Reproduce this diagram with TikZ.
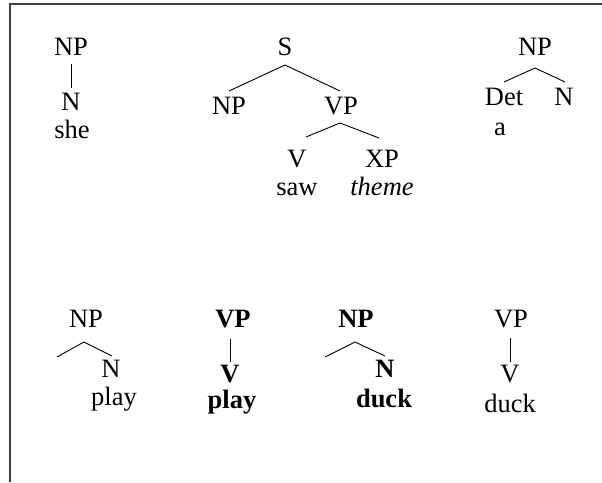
\documentclass[tikz,border=0pt]{standalone}
\usepackage{fontspec}
\setmainfont{Liberation Serif}
\begin{document}
\begin{tikzpicture}[x=1pt,y=-1pt,
  lbl/.style={anchor=base,inner sep=0pt,font=\fontsize{26.5}{31}\selectfont},
  br/.style={line width=0.9pt},
  frame/.style={draw=black!75,line width=1.6pt}]
\useasboundingbox (0,0) rectangle (602,482);
\coordinate (fb) at (10,482);
\coordinate (ftl) at (10,4);
\coordinate (ftr) at (602,4);
\draw[frame] (fb) -- (ftl) -- (ftr);

% tree 1
\node[lbl] (np1) at (71,55) {NP};
\node[lbl] (n1) at (71,110) {N};
\node[lbl] (she) at (72,138) {she};
\coordinate (np1b) at (71,64);
\coordinate (n1t) at (71,88);
\draw[br] (np1b) -- (n1t);

% tree 2
\node[lbl] (s) at (285,55) {S};
\node[lbl] (np2) at (229,114) {NP};
\node[lbl] (vp2) at (341,114) {VP};
\node[lbl] (v2) at (297,167) {V};
\node[lbl] (xp2) at (382,167) {XP};
\node[lbl] (saw) at (297,195) {saw};
\node[lbl] (theme) at (382,195) {\itshape theme};
\coordinate (sb) at (285,65);
\coordinate (np2t) at (229,91);
\coordinate (vp2t) at (340,91);
\coordinate (vp2b) at (340,123);
\coordinate (v2t) at (306,137);
\coordinate (xp2t) at (379,138);
\draw[br] (np2t) -- (sb) -- (vp2t);
\draw[br] (v2t) -- (vp2b) -- (xp2t);

% tree 3
\node[lbl] (np3) at (535,55) {NP};
\node[lbl] (det3) at (504,105) {Det};
\node[lbl] (n3) at (564,105) {N};
\node[lbl] (a3) at (500,135) {a};
\coordinate (np3b) at (535,68);
\coordinate (det3t) at (504,82);
\coordinate (n3t) at (565,82);
\draw[br] (det3t) -- (np3b) -- (n3t);

% tree 4
\node[lbl] (np4) at (86,327) {NP};
\node[lbl] (n4) at (111,377) {N};
\node[lbl] (play4) at (114,405) {play};
\coordinate (l4) at (57,357);
\coordinate (np4b) at (84,342);
\coordinate (n4t) at (112,356);
\draw[br] (l4) -- (np4b) -- (n4t);

% tree 5
\node[lbl] (vp5) at (233,327) {\bfseries VP};
\node[lbl] (v5) at (230,382) {\bfseries V};
\node[lbl] (play5) at (232,408) {\bfseries play};
\coordinate (vp5b) at (230,339);
\coordinate (v5t) at (230,362);
\draw[br] (vp5b) -- (v5t);

% tree 6
\node[lbl] (np6) at (356,327) {\bfseries NP};
\node[lbl] (n6) at (385,377) {\bfseries N};
\node[lbl] (duck6) at (384,407) {\bfseries duck};
\coordinate (l6) at (325,357);
\coordinate (np6b) at (355,342);
\coordinate (n6t) at (385,356);
\draw[br] (l6) -- (np6b) -- (n6t);

% tree 7
\node[lbl] (vp7) at (511,327) {VP};
\node[lbl] (v7) at (510,382) {V};
\node[lbl] (duck7) at (510,412) {duck};
\coordinate (vp7b) at (510,338);
\coordinate (v7t) at (510,362);
\draw[br] (vp7b) -- (v7t);
\end{tikzpicture}
\end{document}
